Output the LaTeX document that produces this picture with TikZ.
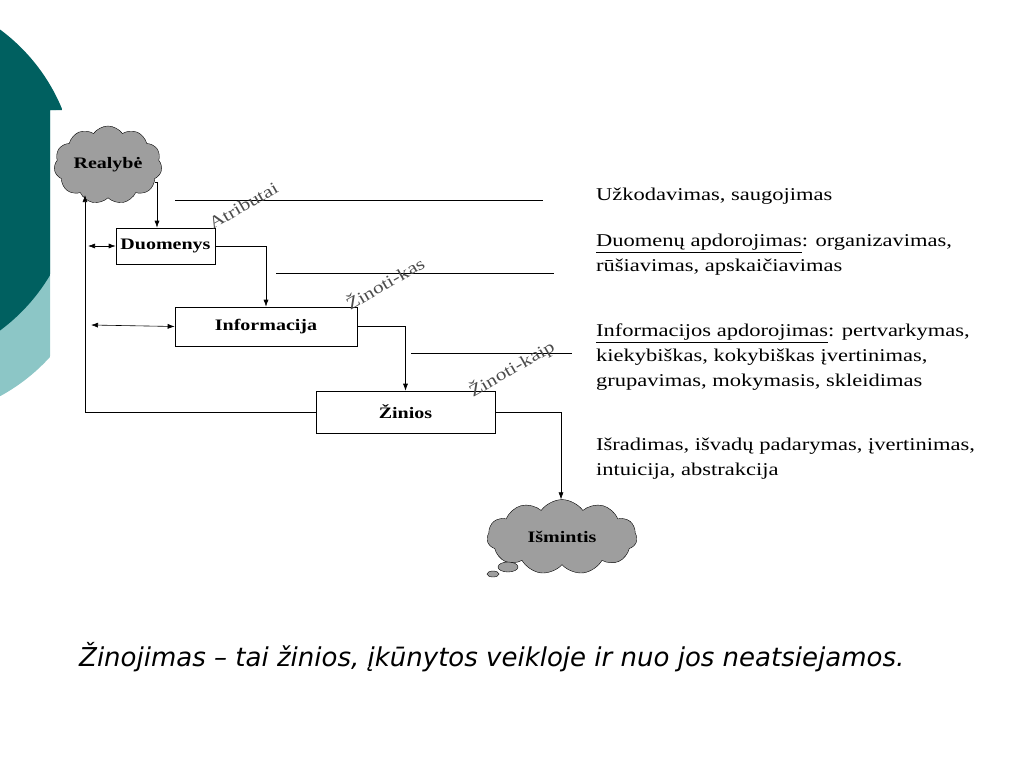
\documentclass[tikz,border=0pt]{standalone}
\usepackage{fontspec}
\setmainfont{Liberation Serif}[FakeStretch=1.25]
\newfontfamily\slidefont{DejaVu Sans}
\usetikzlibrary{shapes.symbols,arrows.meta}

\begin{document}
\begin{tikzpicture}[x=1pt,y=-1pt]
      \tikzset{stage box/.style={draw,semithick,fill=white,inner sep=0pt,
          font=\bfseries\fontsize{16}{18}\selectfont},
        blob/.style={cloud,cloud puffs=11,cloud puff arc=110,aspect=1.6,
          draw=black,fill=black!38,inner sep=1pt,
          font=\bfseries\fontsize{16}{18}\selectfont},
        flow/.style={semithick,-{Latex[length=7pt,width=5pt]}},
        both flow/.style={semithick,{Latex[length=7pt,width=5pt]}-{Latex[length=7pt,width=5pt]}},
        level label/.style={rotate=30,text=black!70,anchor=south,font=\fontsize{17}{19}\selectfont},
        note/.style={anchor=north west,align=left,inner sep=0pt,
          font=\fontsize{18}{25}\selectfont}
      }
      \useasboundingbox (0,0) rectangle (1024,768);
      % slide decoration
      \begin{scope}
        \clip (0,0) -- (62,0) -- (62,110) -- (50,110) -- (50,768) -- (0,768) -- cycle;
        \fill[teal!45!white] (-90,230) circle (189);
        \fill[teal!75!black] (-111,180) circle (187);
      \end{scope}
      % stages
      \node [blob,minimum width=108pt,minimum height=78pt] (R) at (108,165) {Realybė};
      \node [stage box,minimum width=99pt,minimum height=36pt] (D) at (165.5,246) {Duomenys};
      \node [stage box,minimum width=182pt,minimum height=39pt] (I) at (266,326.5) {Informacija};
      \node [stage box,minimum width=179pt,minimum height=42pt] (Z) at (405.5,412) {Žinios};
      \node [blob,minimum width=150pt,minimum height=64pt] (M) at (562,537) {Išmintis};
      \fill[black!38,draw=black] (508,567) ellipse (10 and 5);
      \fill[black!38,draw=black] (493,574) ellipse (6 and 3);
      % flows
      \draw [flow] (R.-20) -| (D.north -| 157,0);
      \draw [flow] (D.east) -| (I.north);
      \draw [flow] (I.east) -| (Z.north);
      \draw [flow] (Z.east) -| (M.north -| 561,0);
      \draw [flow] (Z.west) -| (85,195);
      \coordinate (d0) at (88,246);
      \coordinate (i0) at (91,325);
      \draw [both flow] (d0) -- (D.west);
      \draw [both flow] (i0) -- (I.west);
      % levels
      \draw [semithick] (175,200) -- (543,200);
      \draw [semithick] (276,273) -- (554,273);
      \draw [semithick] (411,353) -- (572,353);
      \node [level label] (a) at (248,214) {Atributai};
      \node [level label] (k) at (390,292) {Žinoti-kas};
      \node [level label] (p) at (518,380) {Žinoti-kaip};
      % notes
      \node [note] (n1) at (596,188) {Užkodavimas, saugojimas};
      \node [note] (n2) at (596,234) {\underline{Duomenų apdorojimas}: organizavimas,\\rūšiavimas, apskaičiavimas};
      \node [note] (n3) at (596,324) {\underline{Informacijos apdorojimas}: pertvarkymas,\\kiekybiškas, kokybiškas įvertinimas,\\grupavimas, mokymasis, skleidimas};
      \node [note] (n4) at (596,438) {Išradimas, išvadų padarymas, įvertinimas,\\intuicija, abstrakcija};
      \node [anchor=west,inner sep=0pt,font=\slidefont\itshape\fontsize{26}{29}\selectfont] (t) at (79,657)
        {Žinojimas – tai žinios, įkūnytos veikloje ir nuo jos neatsiejamos.};
\end{tikzpicture}
\end{document}
